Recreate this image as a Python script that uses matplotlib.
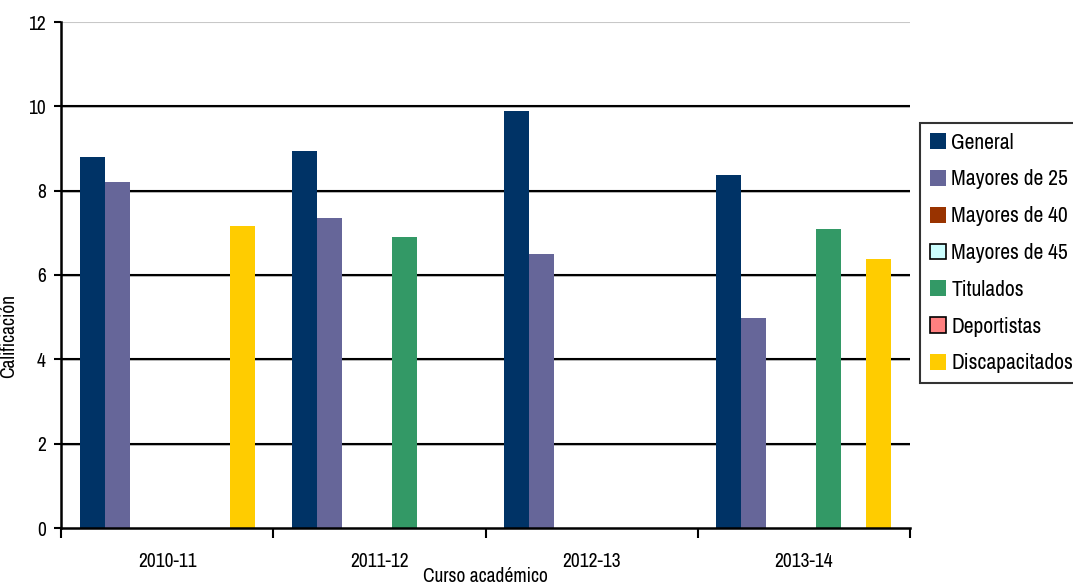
import matplotlib
matplotlib.use("Agg")
import matplotlib.pyplot as plt
from matplotlib import font_manager as fm
import numpy as np

# fuente estrecha si existe (la original parece Arial Narrow)
estrecha = [f.name for f in fm.fontManager.ttflist if 'Narrow' in f.name or 'Condensed' in f.name]
cond = fm.findfont(fm.FontProperties(family='DejaVu Sans', stretch='condensed'))
if estrecha:
    plt.rcParams['font.family'] = [estrecha[0], 'DejaVu Sans']
elif 'Condensed' in cond:
    plt.rcParams['font.family'] = ['DejaVu Sans']
    plt.rcParams['font.stretch'] = 'condensed'
else:
    plt.rcParams['font.family'] = ['Liberation Sans', 'DejaVu Sans']

nan = np.nan
cursos = ['2010-11', '2011-12', '2012-13', '2013-14']
general = [8.80, 8.95, 9.89, 8.36]
mayores25 = [8.21, 7.36, 6.50, 4.99]
mayores40 = [nan, nan, nan, nan]
mayores45 = [nan, nan, nan, nan]
titulados = [nan, 6.91, nan, 7.08]
deportistas = [nan, nan, nan, nan]
discapacitados = [7.17, nan, nan, 6.39]

series = [
    ('General', general, '#003366', '#003366'),
    ('Mayores de 25', mayores25, '#666699', '#666699'),
    ('Mayores de 40', mayores40, '#993300', '#993300'),
    ('Mayores de 45', mayores45, '#CCFFFF', 'black'),
    ('Titulados', titulados, '#339966', '#339966'),
    ('Deportistas', deportistas, '#FF8080', 'black'),
    ('Discapacitados', discapacitados, '#FFCC00', '#FFCC00'),
]

fig = plt.figure(figsize=(10.73, 5.84), dpi=100)
ax = fig.add_axes([61/1073, 1-528/584, 849/1073, 506/584])

x = np.arange(len(cursos))
w = 25/212
for j, (nombre, vals, color, borde) in enumerate(series):
    ax.bar(x + (j-3)*w, vals, w, color=color, edgecolor=borde, linewidth=1.2 if borde == 'black' else 0,
           label=nombre, zorder=3)

# lineas de referencia
for v in [2, 4, 6, 8, 10]:
    ax.axhline(v-0.025, color='#b0b0b0', lw=1.2, zorder=1)
    ax.axhline(v, color='black', lw=1.5, zorder=2)
ax.axhline(12, color='#c8c8c8', lw=1.5, zorder=1)

ax.set_xlim(-0.5, 3.5)
ax.set_ylim(0, 12)
ax.set_yticks([0, 2, 4, 6, 8, 10, 12])
ax.set_xticks(np.arange(-0.5, 4, 1))
ax.set_xticklabels([])
ax.set_xticks(x, minor=True)
ax.set_xticklabels(cursos, minor=True)
ax.tick_params(axis='x', which='major', length=7, width=1.5, direction='out')
ax.tick_params(axis='x', which='minor', length=0, pad=17, labelsize=14)
ax.tick_params(axis='y', length=5, width=1.5, pad=6, labelsize=14)

for s in ['top', 'right']:
    ax.spines[s].set_visible(False)
ax.spines['left'].set_linewidth(1.8)
ax.spines['bottom'].set_linewidth(1.8)
ax.spines['left'].set_zorder(4)
ax.spines['bottom'].set_zorder(4)

ax.set_ylabel('Calificación', fontsize=14)
ax.yaxis.set_label_coords(-0.05, 0.38)
ax.set_xlabel('Curso académico', fontsize=14)
ax.xaxis.set_label_coords(0.5, -0.077)

leg = fig.legend(loc='upper left', bbox_to_anchor=(920/1073, 1-123/584), bbox_transform=fig.transFigure,
                 fontsize=15.5, frameon=True, fancybox=False, edgecolor='black', handlelength=0.75,
                 handleheight=0.75, handletextpad=0.25, labelspacing=0.78, borderpad=0.45, borderaxespad=0)
leg.get_frame().set_linewidth(1.5)

fig.savefig('out.png', dpi=100)
